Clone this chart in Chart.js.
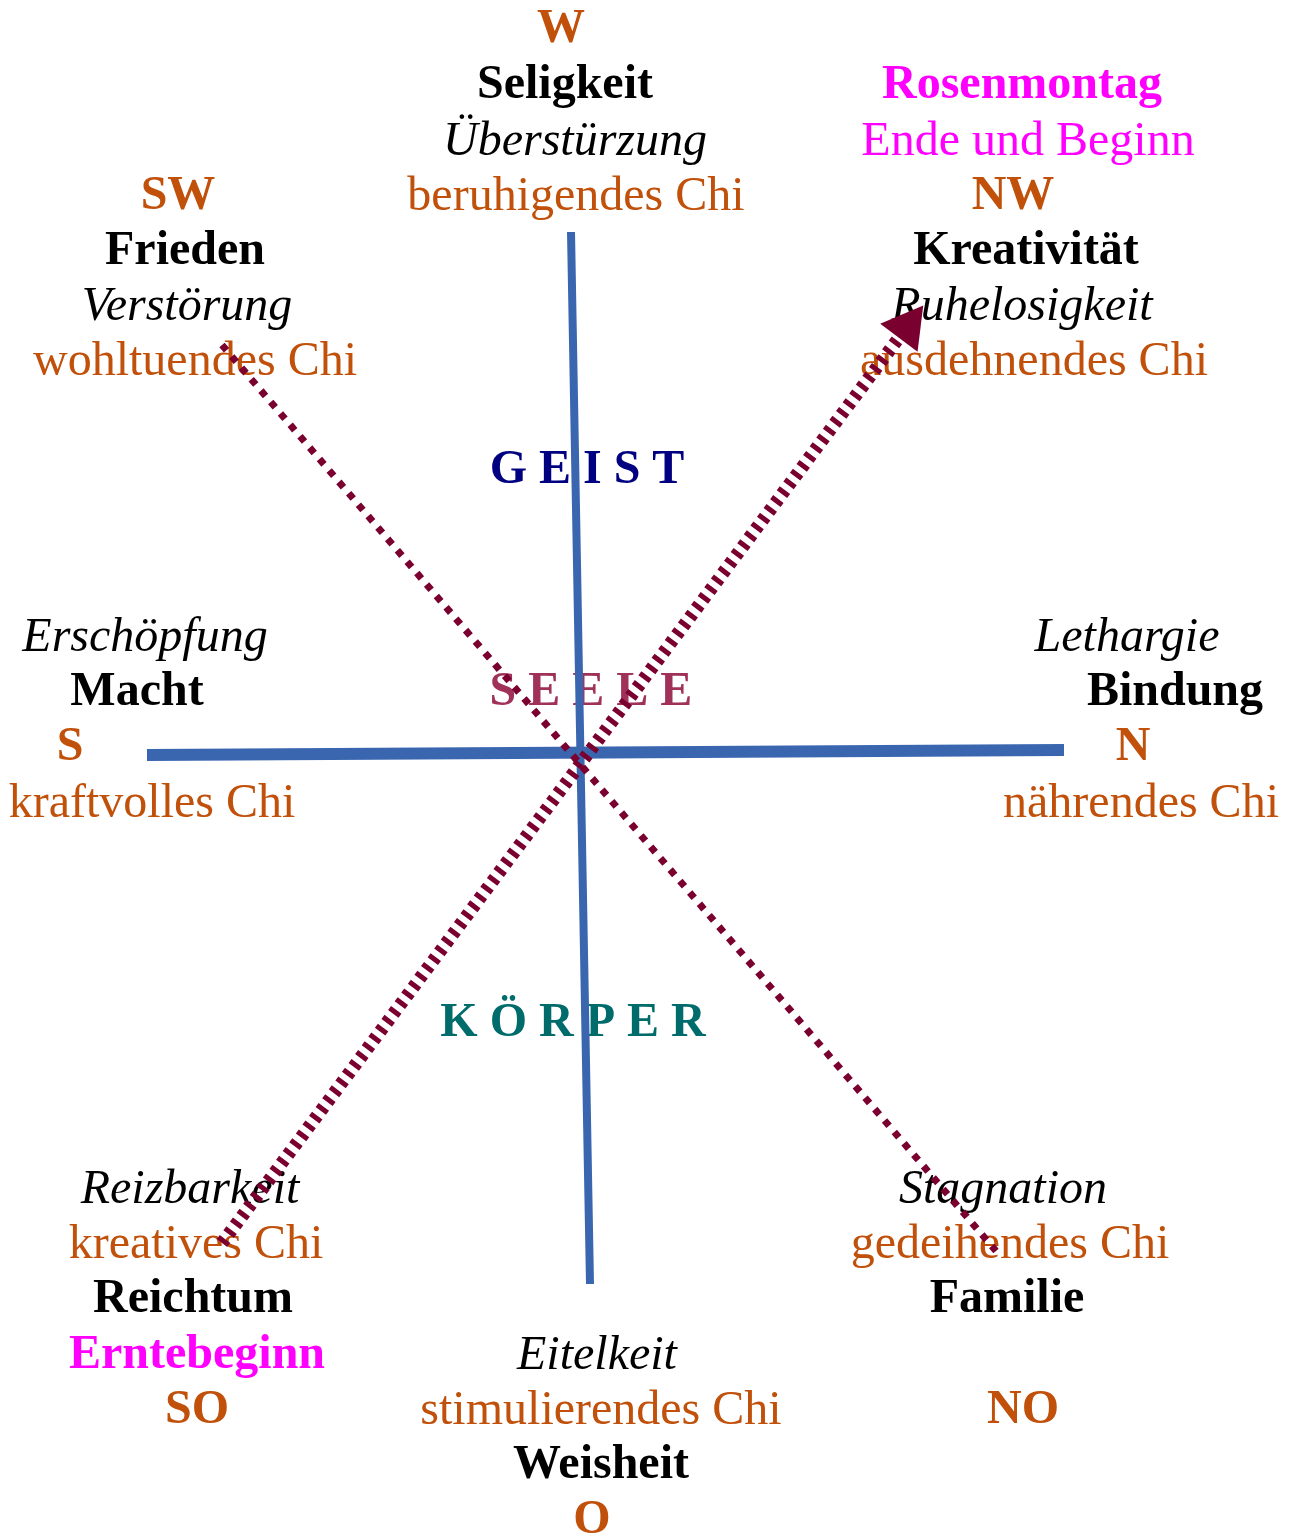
<!DOCTYPE html>
<html>
<head>
<meta charset="utf-8">
<script src="https://cdn.jsdelivr.net/npm/chart.js@4/dist/chart.umd.min.js"></script>
<style>
  html, body { margin: 0; padding: 0; background: #fff; }
  #wrap { width: 1291px; height: 1538px; position: relative; }
</style>
</head>
<body>
<div id="wrap"><canvas id="myChart"></canvas></div>
<script>
// the lines of the diagram (in picture units)
const axisVertical = [{ x: 571, y: 232 }, { x: 590, y: 1284 }];
const axisHorizontal = [{ x: 147, y: 755 }, { x: 1064, y: 750 }];
const thinDiagonal = [{ x: 222, y: 345 }, { x: 996, y: 1251 }];
const thickDiagonal = [{ x: 222, y: 1243 }, { x: 904, y: 331 }];
const arrowHead = [{ x: 907, y: 327 }];

// texts
const labelTexts = [
  "W", "Seligkeit", "Überstürzung", "beruhigendes Chi",
  "Rosenmontag", "Ende und Beginn", "NW", "Kreativität", "Ruhelosigkeit", "ausdehnendes Chi",
  "SW", "Frieden", "Verstörung", "wohltuendes Chi",
  "G E I S T",
  "Erschöpfung", "Macht", "S", "kraftvolles Chi",
  "Lethargie", "Bindung", "N", "nährendes Chi",
  "S E E L E",
  "K Ö R P E R",
  "Reizbarkeit", "kreatives Chi", "Reichtum", "Erntebeginn", "SO",
  "Stagnation", "gedeihendes Chi", "Familie", "NO",
  "Eitelkeit", "stimulierendes Chi", "Weisheit", "O"
];
const labelX = [
  561, 565, 575, 576,
  1022, 1028, 1013, 1026, 1022, 1034,
  178, 185, 187, 195,
  587,
  145, 137, 70, 152,
  1127, 1175, 1133, 1141,
  591,
  573,
  190, 196, 193, 197, 197,
  1003, 1010, 1007, 1023,
  597, 601, 601, 592
];
const labelY = [
  30, 86, 142, 197,
  86, 142, 197, 252, 307, 362,
  197, 252, 307, 362,
  471,
  638, 693, 748, 804,
  638, 693, 748, 804,
  693,
  1024,
  1190, 1245, 1300, 1356, 1411,
  1190, 1245, 1300, 1411,
  1356, 1411, 1466, 1521
];
// b = bold, i = italic, r = regular
const labelStyles = [
  "b", "b", "i", "r",
  "b", "r", "b", "b", "i", "r",
  "b", "b", "i", "r",
  "b",
  "i", "b", "b", "r",
  "i", "b", "b", "r",
  "b",
  "b",
  "i", "r", "b", "b", "b",
  "i", "r", "b", "b",
  "i", "r", "b", "b"
];
const labelColors = [
  "#c0500a", "#000", "#000", "#c0500a",
  "#ff00ff", "#ff00ff", "#c0500a", "#000", "#000", "#c0500a",
  "#c0500a", "#000", "#000", "#c0500a",
  "#000080",
  "#000", "#000", "#c0500a", "#c0500a",
  "#000", "#000", "#c0500a", "#c0500a",
  "#a0325a",
  "#006b6b",
  "#000", "#c0500a", "#000", "#ff00ff", "#c0500a",
  "#000", "#c0500a", "#000", "#c0500a",
  "#000", "#c0500a", "#000", "#c0500a"
];

const fontFamily = '"Liberation Serif", "Times New Roman", serif';

// texts go under the lines
const textPlugin = {
  id: "texts",
  beforeDatasetsDraw(chart) {
    const ctx = chart.ctx;
    const xs = chart.scales.x;
    const ys = chart.scales.y;
    ctx.save();
    ctx.textAlign = "center";
    ctx.textBaseline = "middle";
    labelTexts.forEach((t, i) => {
      const st = labelStyles[i];
      let f = "48px " + fontFamily;
      if (st == "b") f = "bold " + f;
      if (st == "i") f = "italic " + f;
      ctx.font = f;
      ctx.fillStyle = labelColors[i];
      ctx.fillText(t, xs.getPixelForValue(labelX[i]), ys.getPixelForValue(labelY[i]));
    });
    ctx.restore();
  },
};

const myChart = document.querySelector("#myChart");
let chart = new Chart(myChart, {
  type: "scatter",
  data: {
    datasets: [
      {
        // arrow head
        data: arrowHead,
        pointStyle: "triangle",
        pointRadius: 27,
        rotation: 37,
        backgroundColor: "#7a0030",
        borderColor: "#7a0030",
        borderWidth: 0,
        showLine: false,
      },
      {
        data: thickDiagonal,
        showLine: true,
        borderColor: "#7a0030",
        borderWidth: 13,
        borderDash: [5, 6],
        borderCapStyle: "butt",
        pointRadius: 0,
      },
      {
        data: thinDiagonal,
        showLine: true,
        borderColor: "#7a0030",
        borderWidth: 7,
        borderDash: [7, 8],
        borderCapStyle: "butt",
        pointRadius: 0,
      },
      {
        data: axisHorizontal,
        showLine: true,
        borderColor: "#3a66b0",
        borderWidth: 12,
        borderCapStyle: "butt",
        pointRadius: 0,
      },
      {
        data: axisVertical,
        showLine: true,
        borderColor: "#3a66b0",
        borderWidth: 8,
        borderCapStyle: "butt",
        pointRadius: 0,
      },
    ],
  },
  options: {
    responsive: true,
    maintainAspectRatio: false,
    animation: false,
    layout: { padding: 0, autoPadding: false },
    plugins: {
      legend: { display: false },
      tooltip: { enabled: false },
    },
    scales: {
      x: { type: "linear", min: 0, max: 1291, display: false },
      y: { type: "linear", min: 0, max: 1538, reverse: true, display: false },
    },
  },
  plugins: [textPlugin],
});
</script>
</body>
</html>
